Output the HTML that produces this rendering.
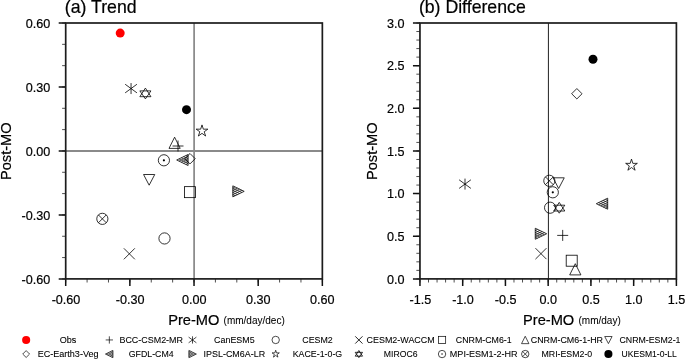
<!DOCTYPE html>
<html><head><meta charset="utf-8"><title>Pre-MO vs Post-MO</title>
<style>html,body{margin:0;padding:0;background:#fff;}body{width:685px;height:359px;overflow:hidden;position:relative;font-family:"Liberation Sans",sans-serif;}</style>
</head><body>
<svg width="685" height="359" viewBox="0 0 685 359" style="position:absolute;left:0;top:0;will-change:transform">
<rect width="685" height="359" fill="#fff"/>
<line x1="194.12" y1="23.0" x2="194.12" y2="278.9" stroke="#8c8c8c" stroke-width="1.8"/>
<line x1="65.7" y1="151" x2="322.35" y2="151" stroke="#8a8a8a" stroke-width="1.8"/>
<path d="M65.70,278.9v3.6M87.09,278.9v3.6M108.48,278.9v3.6M129.86,278.9v3.6M151.25,278.9v3.6M172.64,278.9v3.6M194.03,278.9v3.6M215.41,278.9v3.6M236.80,278.9v3.6M258.19,278.9v3.6M279.58,278.9v3.6M300.96,278.9v3.6M322.35,278.9v3.6M65.7,23.00h-3.6M65.7,44.33h-3.6M65.7,65.65h-3.6M65.7,86.97h-3.6M65.7,108.30h-3.6M65.7,129.62h-3.6M65.7,150.95h-3.6M65.7,172.27h-3.6M65.7,193.60h-3.6M65.7,214.92h-3.6M65.7,236.25h-3.6M65.7,257.57h-3.6M65.7,278.90h-3.6" stroke="#222" stroke-width="0.8" fill="none"/>
<path d="M65.70,278.9v7M129.86,278.9v7M194.03,278.9v7M258.19,278.9v7M322.35,278.9v7M65.7,23.00h-7M65.7,86.97h-7M65.7,150.95h-7M65.7,214.92h-7M65.7,278.90h-7" stroke="#111" stroke-width="1.5" fill="none"/>
<rect x="65.7" y="23.0" width="256.65000000000003" height="255.89999999999998" fill="none" stroke="#1c1c1c" stroke-width="1.7"/>
<line x1="548.45" y1="23.0" x2="548.45" y2="278.9" stroke="#363636" stroke-width="1.1"/>
<path d="M419.95,278.9v3.6M428.50,278.9v3.6M437.05,278.9v3.6M445.59,278.9v3.6M454.14,278.9v3.6M462.69,278.9v3.6M471.24,278.9v3.6M479.79,278.9v3.6M488.34,278.9v3.6M496.88,278.9v3.6M505.43,278.9v3.6M513.98,278.9v3.6M522.53,278.9v3.6M531.08,278.9v3.6M539.63,278.9v3.6M548.17,278.9v3.6M556.72,278.9v3.6M565.27,278.9v3.6M573.82,278.9v3.6M582.37,278.9v3.6M590.92,278.9v3.6M599.46,278.9v3.6M608.01,278.9v3.6M616.56,278.9v3.6M625.11,278.9v3.6M633.66,278.9v3.6M642.21,278.9v3.6M650.75,278.9v3.6M659.30,278.9v3.6M667.85,278.9v3.6M676.40,278.9v3.6M419.95,23.00h-3.6M419.95,31.53h-3.6M419.95,40.06h-3.6M419.95,48.59h-3.6M419.95,57.12h-3.6M419.95,65.65h-3.6M419.95,74.18h-3.6M419.95,82.71h-3.6M419.95,91.24h-3.6M419.95,99.77h-3.6M419.95,108.30h-3.6M419.95,116.83h-3.6M419.95,125.36h-3.6M419.95,133.89h-3.6M419.95,142.42h-3.6M419.95,150.95h-3.6M419.95,159.48h-3.6M419.95,168.01h-3.6M419.95,176.54h-3.6M419.95,185.07h-3.6M419.95,193.60h-3.6M419.95,202.13h-3.6M419.95,210.66h-3.6M419.95,219.19h-3.6M419.95,227.72h-3.6M419.95,236.25h-3.6M419.95,244.78h-3.6M419.95,253.31h-3.6M419.95,261.84h-3.6M419.95,270.37h-3.6M419.95,278.90h-3.6" stroke="#222" stroke-width="0.8" fill="none"/>
<path d="M419.95,278.9v7M462.69,278.9v7M505.43,278.9v7M548.17,278.9v7M590.92,278.9v7M633.66,278.9v7M676.40,278.9v7M419.95,23.00h-7M419.95,65.65h-7M419.95,108.30h-7M419.95,150.95h-7M419.95,193.60h-7M419.95,236.25h-7M419.95,278.90h-7" stroke="#111" stroke-width="1.5" fill="none"/>
<rect x="419.95" y="23.0" width="256.45" height="255.89999999999998" fill="none" stroke="#1c1c1c" stroke-width="1.7"/>
<g transform="translate(120.2,33.1) scale(1.0)" fill="none" stroke="#000" stroke-width="0.800"><circle r="4.5" fill="#f00" stroke="none"/></g>
<g transform="translate(131.05,88.55) scale(1.0)" fill="none" stroke="#000" stroke-width="0.800"><path d="M0,-5.5V5.5M-5.9,-4.3L5.9,4.3M-5.9,4.3L5.9,-4.3"/></g>
<g transform="translate(145.4,93.5) scale(1.0)" fill="none" stroke="#000" stroke-width="0.800"><path d="M0,-5.4L5.55,3.2H-5.55Z"/><path d="M0,5.4L5.55,-2.6H-5.55Z"/></g>
<g transform="translate(186.5,109.65) scale(1.0)" fill="none" stroke="#000" stroke-width="0.800"><circle r="4.5" fill="#000" stroke="none"/></g>
<g transform="translate(202.0,131.05) scale(1.0)" fill="none" stroke="#000" stroke-width="0.800"><path d="M0.00,-6.15L1.35,-1.86L5.85,-1.90L2.19,0.71L3.61,4.98L0.00,2.30L-3.61,4.98L-2.19,0.71L-5.85,-1.90L-1.35,-1.86Z"/></g>
<g transform="translate(174.6,142.8) scale(1.0)" fill="none" stroke="#000" stroke-width="0.800"><path d="M0,-5.6L5.6,5.6H-5.6Z"/></g>
<g transform="translate(178.0,146.0) scale(1.0)" fill="none" stroke="#000" stroke-width="0.800"><path d="M-5.5,0H5.5M0,-5.5V5.5"/></g>
<g transform="translate(163.9,160.3) scale(1.0)" fill="none" stroke="#000" stroke-width="0.800"><circle r="5.6"/><circle r="1.1" fill="#000" stroke="none"/></g>
<g transform="translate(182.6,160) scale(1.0)" fill="none" stroke="#000" stroke-width="0.800"><path d="M5.5,-5.5L5.5,5.5L-5.9,0Z"/><path d="M5.50,-3.30L3.22,-4.40M5.50,-3.30L-3.62,1.10M5.50,-1.10L0.94,-3.30M5.50,-1.10L-1.34,2.20M5.50,1.10L-1.34,-2.20M5.50,1.10L0.94,3.30M5.50,3.30L-3.62,-1.10M5.50,3.30L3.22,4.40" stroke-width="0.65"/></g>
<g transform="translate(190.0,158.7) scale(1.0)" fill="none" stroke="#000" stroke-width="0.800"><path d="M0,-5.2L5.2,0L0,5.2L-5.2,0Z"/></g>
<g transform="translate(149.15,179.7) scale(1.0)" fill="none" stroke="#000" stroke-width="0.800"><path d="M0,5.5L5.6,-5.2H-5.6Z"/></g>
<g transform="translate(190.05,192.15) scale(1.0)" fill="none" stroke="#000" stroke-width="0.800"><rect x="-5.5" y="-5.5" width="11.0" height="11.0"/></g>
<g transform="translate(238.3,191.35) scale(1.0)" fill="none" stroke="#000" stroke-width="0.800"><path d="M-5.5,-5.5L-5.5,5.5L5.9,0Z"/><path d="M-5.50,-3.30L-3.22,-4.40M-5.50,-3.30L3.62,1.10M-5.50,-1.10L-0.94,-3.30M-5.50,-1.10L1.34,2.20M-5.50,1.10L1.34,-2.20M-5.50,1.10L-0.94,3.30M-5.50,3.30L3.62,-1.10M-5.50,3.30L-3.22,4.40" stroke-width="0.65"/></g>
<g transform="translate(102.35,218.85) scale(1.0)" fill="none" stroke="#000" stroke-width="0.800"><circle r="5.6"/><path d="M-3.96,-3.96L3.96,3.96M-3.96,3.96L3.96,-3.96"/></g>
<g transform="translate(164.5,238.45) scale(1.0)" fill="none" stroke="#000" stroke-width="0.800"><circle r="5.6"/></g>
<g transform="translate(129.35,253.8) scale(1.0)" fill="none" stroke="#000" stroke-width="0.800"><path d="M-5.5,-5.5L5.5,5.5M-5.5,5.5L5.5,-5.5"/></g>
<g transform="translate(593.0,59.3) scale(1.0)" fill="none" stroke="#000" stroke-width="0.800"><circle r="4.5" fill="#000" stroke="none"/></g>
<g transform="translate(576.85,93.75) scale(1.0)" fill="none" stroke="#000" stroke-width="0.800"><path d="M0,-5.2L5.2,0L0,5.2L-5.2,0Z"/></g>
<g transform="translate(631.5,165.25) scale(1.0)" fill="none" stroke="#000" stroke-width="0.800"><path d="M0.00,-6.15L1.35,-1.86L5.85,-1.90L2.19,0.71L3.61,4.98L0.00,2.30L-3.61,4.98L-2.19,0.71L-5.85,-1.90L-1.35,-1.86Z"/></g>
<g transform="translate(465.0,184.1) scale(1.0)" fill="none" stroke="#000" stroke-width="0.800"><path d="M0,-5.5V5.5M-5.9,-4.3L5.9,4.3M-5.9,4.3L5.9,-4.3"/></g>
<g transform="translate(549.35,180.8) scale(1.0)" fill="none" stroke="#000" stroke-width="0.800"><circle r="5.6"/><path d="M-3.96,-3.96L3.96,3.96M-3.96,3.96L3.96,-3.96"/></g>
<g transform="translate(558.65,183) scale(1.0)" fill="none" stroke="#000" stroke-width="0.800"><path d="M0,5.5L5.6,-5.2H-5.6Z"/></g>
<g transform="translate(552.8,192.3) scale(1.0)" fill="none" stroke="#000" stroke-width="0.800"><circle r="5.6"/><circle r="1.1" fill="#000" stroke="none"/></g>
<g transform="translate(550.1,207.7) scale(1.0)" fill="none" stroke="#000" stroke-width="0.800"><circle r="5.6"/></g>
<g transform="translate(559.25,207.8) scale(1.0)" fill="none" stroke="#000" stroke-width="0.800"><path d="M0,-5.4L5.55,3.2H-5.55Z"/><path d="M0,5.4L5.55,-2.6H-5.55Z"/></g>
<g transform="translate(602.2,203.7) scale(1.0)" fill="none" stroke="#000" stroke-width="0.800"><path d="M5.5,-5.5L5.5,5.5L-5.9,0Z"/><path d="M5.50,-3.30L3.22,-4.40M5.50,-3.30L-3.62,1.10M5.50,-1.10L0.94,-3.30M5.50,-1.10L-1.34,2.20M5.50,1.10L-1.34,-2.20M5.50,1.10L0.94,3.30M5.50,3.30L-3.62,-1.10M5.50,3.30L3.22,4.40" stroke-width="0.65"/></g>
<g transform="translate(540.75,233.75) scale(1.0)" fill="none" stroke="#000" stroke-width="0.800"><path d="M-5.5,-5.5L-5.5,5.5L5.9,0Z"/><path d="M-5.50,-3.30L-3.22,-4.40M-5.50,-3.30L3.62,1.10M-5.50,-1.10L-0.94,-3.30M-5.50,-1.10L1.34,2.20M-5.50,1.10L1.34,-2.20M-5.50,1.10L-0.94,3.30M-5.50,3.30L3.62,-1.10M-5.50,3.30L-3.22,4.40" stroke-width="0.65"/></g>
<g transform="translate(562.7,235.4) scale(1.0)" fill="none" stroke="#000" stroke-width="0.800"><path d="M-5.5,0H5.5M0,-5.5V5.5"/></g>
<g transform="translate(540.95,253.65) scale(1.0)" fill="none" stroke="#000" stroke-width="0.800"><path d="M-5.5,-5.5L5.5,5.5M-5.5,5.5L5.5,-5.5"/></g>
<g transform="translate(571.7,260.7) scale(1.0)" fill="none" stroke="#000" stroke-width="0.800"><rect x="-5.5" y="-5.5" width="11.0" height="11.0"/></g>
<g transform="translate(575.3,269.3) scale(1.0)" fill="none" stroke="#000" stroke-width="0.800"><path d="M0,-5.6L5.6,5.6H-5.6Z"/></g>
<text x="64.8" y="13.1" font-size="17.7" text-anchor="start" font-family="Liberation Sans, sans-serif" fill="#000" stroke="#000" stroke-width="0.2" >(a) Trend</text>
<text x="418.9" y="13.1" font-size="17.7" text-anchor="start" font-family="Liberation Sans, sans-serif" fill="#000" stroke="#000" stroke-width="0.2" >(b) Difference</text>
<text x="50.2" y="27.9" font-size="12.6" text-anchor="end" font-family="Liberation Sans, sans-serif" fill="#000" stroke="#000" stroke-width="0.2" >0.60</text>
<text x="50.2" y="91.9" font-size="12.6" text-anchor="end" font-family="Liberation Sans, sans-serif" fill="#000" stroke="#000" stroke-width="0.2" >0.30</text>
<text x="50.2" y="155.9" font-size="12.6" text-anchor="end" font-family="Liberation Sans, sans-serif" fill="#000" stroke="#000" stroke-width="0.2" >0.00</text>
<text x="50.2" y="219.9" font-size="12.6" text-anchor="end" font-family="Liberation Sans, sans-serif" fill="#000" stroke="#000" stroke-width="0.2" >-0.30</text>
<text x="50.2" y="283.9" font-size="12.6" text-anchor="end" font-family="Liberation Sans, sans-serif" fill="#000" stroke="#000" stroke-width="0.2" >-0.60</text>
<text x="404.6" y="28" font-size="12.6" text-anchor="end" font-family="Liberation Sans, sans-serif" fill="#000" stroke="#000" stroke-width="0.2" >3.0</text>
<text x="404.6" y="70" font-size="12.6" text-anchor="end" font-family="Liberation Sans, sans-serif" fill="#000" stroke="#000" stroke-width="0.2" >2.5</text>
<text x="404.6" y="113" font-size="12.6" text-anchor="end" font-family="Liberation Sans, sans-serif" fill="#000" stroke="#000" stroke-width="0.2" >2.0</text>
<text x="404.6" y="156" font-size="12.6" text-anchor="end" font-family="Liberation Sans, sans-serif" fill="#000" stroke="#000" stroke-width="0.2" >1.5</text>
<text x="404.6" y="198" font-size="12.6" text-anchor="end" font-family="Liberation Sans, sans-serif" fill="#000" stroke="#000" stroke-width="0.2" >1.0</text>
<text x="404.6" y="241" font-size="12.6" text-anchor="end" font-family="Liberation Sans, sans-serif" fill="#000" stroke="#000" stroke-width="0.2" >0.5</text>
<text x="404.6" y="284" font-size="12.6" text-anchor="end" font-family="Liberation Sans, sans-serif" fill="#000" stroke="#000" stroke-width="0.2" >0.0</text>
<text x="66.0" y="304" font-size="12.6" text-anchor="middle" font-family="Liberation Sans, sans-serif" fill="#000" stroke="#000" stroke-width="0.2" >-0.60</text>
<text x="130.07999999999998" y="304" font-size="12.6" text-anchor="middle" font-family="Liberation Sans, sans-serif" fill="#000" stroke="#000" stroke-width="0.2" >-0.30</text>
<text x="194.16" y="304" font-size="12.6" text-anchor="middle" font-family="Liberation Sans, sans-serif" fill="#000" stroke="#000" stroke-width="0.2" >0.00</text>
<text x="258.24" y="304" font-size="12.6" text-anchor="middle" font-family="Liberation Sans, sans-serif" fill="#000" stroke="#000" stroke-width="0.2" >0.30</text>
<text x="322.32" y="304" font-size="12.6" text-anchor="middle" font-family="Liberation Sans, sans-serif" fill="#000" stroke="#000" stroke-width="0.2" >0.60</text>
<text x="420.3" y="304" font-size="12.6" text-anchor="middle" font-family="Liberation Sans, sans-serif" fill="#000" stroke="#000" stroke-width="0.2" >-1.5</text>
<text x="462.98333333333335" y="304" font-size="12.6" text-anchor="middle" font-family="Liberation Sans, sans-serif" fill="#000" stroke="#000" stroke-width="0.2" >-1.0</text>
<text x="505.6666666666667" y="304" font-size="12.6" text-anchor="middle" font-family="Liberation Sans, sans-serif" fill="#000" stroke="#000" stroke-width="0.2" >-0.5</text>
<text x="548.35" y="304" font-size="12.6" text-anchor="middle" font-family="Liberation Sans, sans-serif" fill="#000" stroke="#000" stroke-width="0.2" >0.0</text>
<text x="591.0333333333333" y="304" font-size="12.6" text-anchor="middle" font-family="Liberation Sans, sans-serif" fill="#000" stroke="#000" stroke-width="0.2" >0.5</text>
<text x="633.7166666666667" y="304" font-size="12.6" text-anchor="middle" font-family="Liberation Sans, sans-serif" fill="#000" stroke="#000" stroke-width="0.2" >1.0</text>
<text x="676.4000000000001" y="304" font-size="12.6" text-anchor="middle" font-family="Liberation Sans, sans-serif" fill="#000" stroke="#000" stroke-width="0.2" >1.5</text>
<text x="168.2" y="325.2" font-size="14.65" text-anchor="start" font-family="Liberation Sans, sans-serif" fill="#000" stroke="#000" stroke-width="0.2" >Pre-MO</text>
<text x="223.6" y="323.5" font-size="10.0" text-anchor="start" font-family="Liberation Sans, sans-serif" fill="#000" stroke="#000" stroke-width="0.05">(mm/day/dec)</text>
<text x="523.0" y="325.2" font-size="14.65" text-anchor="start" font-family="Liberation Sans, sans-serif" fill="#000" stroke="#000" stroke-width="0.2" >Pre-MO</text>
<text x="578.5" y="323.5" font-size="10.0" text-anchor="start" font-family="Liberation Sans, sans-serif" fill="#000" stroke="#000" stroke-width="0.05">(mm/day)</text>
<text transform="translate(11.4,151.2) rotate(-90)" font-size="14.6" text-anchor="middle" font-family="Liberation Sans, sans-serif" fill="#000" stroke="#000" stroke-width="0.2">Post-MO</text>
<text transform="translate(376.6,151.2) rotate(-90)" font-size="14.6" text-anchor="middle" font-family="Liberation Sans, sans-serif" fill="#000" stroke="#000" stroke-width="0.2">Post-MO</text>
<g transform="translate(26.15,339.95) scale(0.9)" fill="none" stroke="#000" stroke-width="0.778"><circle r="4.5" fill="#f00" stroke="none"/></g>
<g transform="translate(26.15,354.05) scale(0.66)" fill="none" stroke="#000" stroke-width="1.061"><path d="M0,-5.2L5.2,0L0,5.2L-5.2,0Z"/></g>
<text x="68.10" y="343.2" font-size="9.05" text-anchor="middle" font-family="Liberation Sans, sans-serif" fill="#000" stroke="#000" stroke-width="0.08" textLength="16.6" lengthAdjust="spacingAndGlyphs">Obs</text>
<text x="68.10" y="356.9" font-size="9.05" text-anchor="middle" font-family="Liberation Sans, sans-serif" fill="#000" stroke="#000" stroke-width="0.08" textLength="60.9" lengthAdjust="spacingAndGlyphs">EC-Earth3-Veg</text>
<g transform="translate(109.33000000000001,339.95) scale(0.66)" fill="none" stroke="#000" stroke-width="1.061"><path d="M-5.5,0H5.5M0,-5.5V5.5"/></g>
<g transform="translate(109.33000000000001,354.05) scale(0.66)" fill="none" stroke="#000" stroke-width="1.061"><path d="M5.5,-5.5L5.5,5.5L-5.9,0Z"/><path d="M5.50,-3.30L3.22,-4.40M5.50,-3.30L-3.62,1.10M5.50,-1.10L0.94,-3.30M5.50,-1.10L-1.34,2.20M5.50,1.10L-1.34,-2.20M5.50,1.10L0.94,3.30M5.50,3.30L-3.62,-1.10M5.50,3.30L3.22,4.40" stroke-width="0.65"/></g>
<text x="151.23" y="343.2" font-size="9.05" text-anchor="middle" font-family="Liberation Sans, sans-serif" fill="#000" stroke="#000" stroke-width="0.08" textLength="63.6" lengthAdjust="spacingAndGlyphs">BCC-CSM2-MR</text>
<text x="151.23" y="356.9" font-size="9.05" text-anchor="middle" font-family="Liberation Sans, sans-serif" fill="#000" stroke="#000" stroke-width="0.08" textLength="44.9" lengthAdjust="spacingAndGlyphs">GFDL-CM4</text>
<g transform="translate(192.51000000000002,339.95) scale(0.66)" fill="none" stroke="#000" stroke-width="1.061"><path d="M0,-5.5V5.5M-5.9,-4.3L5.9,4.3M-5.9,4.3L5.9,-4.3"/></g>
<g transform="translate(192.51000000000002,354.05) scale(0.66)" fill="none" stroke="#000" stroke-width="1.061"><path d="M-5.5,-5.5L-5.5,5.5L5.9,0Z"/><path d="M-5.50,-3.30L-3.22,-4.40M-5.50,-3.30L3.62,1.10M-5.50,-1.10L-0.94,-3.30M-5.50,-1.10L1.34,2.20M-5.50,1.10L1.34,-2.20M-5.50,1.10L-0.94,3.30M-5.50,3.30L3.62,-1.10M-5.50,3.30L-3.22,4.40" stroke-width="0.65"/></g>
<text x="234.36" y="343.2" font-size="9.05" text-anchor="middle" font-family="Liberation Sans, sans-serif" fill="#000" stroke="#000" stroke-width="0.08" textLength="40.5" lengthAdjust="spacingAndGlyphs">CanESM5</text>
<text x="234.36" y="356.9" font-size="9.05" text-anchor="middle" font-family="Liberation Sans, sans-serif" fill="#000" stroke="#000" stroke-width="0.08" textLength="61.5" lengthAdjust="spacingAndGlyphs">IPSL-CM6A-LR</text>
<g transform="translate(275.69,339.95) scale(0.66)" fill="none" stroke="#000" stroke-width="1.061"><circle r="5.6"/></g>
<g transform="translate(275.69,354.05) scale(0.62)" fill="none" stroke="#000" stroke-width="1.129"><path d="M0.00,-6.15L1.35,-1.86L5.85,-1.90L2.19,0.71L3.61,4.98L0.00,2.30L-3.61,4.98L-2.19,0.71L-5.85,-1.90L-1.35,-1.86Z"/></g>
<text x="317.49" y="343.2" font-size="9.05" text-anchor="middle" font-family="Liberation Sans, sans-serif" fill="#000" stroke="#000" stroke-width="0.08" textLength="30.5" lengthAdjust="spacingAndGlyphs">CESM2</text>
<text x="317.49" y="356.9" font-size="9.05" text-anchor="middle" font-family="Liberation Sans, sans-serif" fill="#000" stroke="#000" stroke-width="0.08" textLength="49.5" lengthAdjust="spacingAndGlyphs">KACE-1-0-G</text>
<g transform="translate(358.87,339.95) scale(0.66)" fill="none" stroke="#000" stroke-width="1.288"><path d="M-5.5,-5.5L5.5,5.5M-5.5,5.5L5.5,-5.5"/></g>
<g transform="translate(358.87,354.05) scale(0.66)" fill="none" stroke="#000" stroke-width="1.212"><path d="M0,-5.4L5.55,3.2H-5.55Z"/><path d="M0,5.4L5.55,-2.6H-5.55Z"/></g>
<text x="400.62" y="343.2" font-size="9.05" text-anchor="middle" font-family="Liberation Sans, sans-serif" fill="#000" stroke="#000" stroke-width="0.08" textLength="68.2" lengthAdjust="spacingAndGlyphs">CESM2-WACCM</text>
<text x="400.62" y="356.9" font-size="9.05" text-anchor="middle" font-family="Liberation Sans, sans-serif" fill="#000" stroke="#000" stroke-width="0.08" textLength="33.7" lengthAdjust="spacingAndGlyphs">MIROC6</text>
<g transform="translate(442.05,339.95) scale(0.66)" fill="none" stroke="#000" stroke-width="1.061"><rect x="-5.5" y="-5.5" width="11.0" height="11.0"/></g>
<g transform="translate(442.05,354.05) scale(0.66)" fill="none" stroke="#000" stroke-width="1.061"><circle r="5.6"/><circle r="1.1" fill="#000" stroke="none"/></g>
<text x="483.75" y="343.2" font-size="9.05" text-anchor="middle" font-family="Liberation Sans, sans-serif" fill="#000" stroke="#000" stroke-width="0.08" textLength="55.8" lengthAdjust="spacingAndGlyphs">CNRM-CM6-1</text>
<text x="483.75" y="356.9" font-size="9.05" text-anchor="middle" font-family="Liberation Sans, sans-serif" fill="#000" stroke="#000" stroke-width="0.08" textLength="67.8" lengthAdjust="spacingAndGlyphs">MPI-ESM1-2-HR</text>
<g transform="translate(525.23,339.95) scale(0.66)" fill="none" stroke="#000" stroke-width="1.061"><path d="M0,-5.6L5.6,5.6H-5.6Z"/></g>
<g transform="translate(525.23,354.05) scale(0.66)" fill="none" stroke="#000" stroke-width="1.061"><circle r="5.6"/><path d="M-3.96,-3.96L3.96,3.96M-3.96,3.96L3.96,-3.96"/></g>
<text x="566.88" y="343.2" font-size="9.05" text-anchor="middle" font-family="Liberation Sans, sans-serif" fill="#000" stroke="#000" stroke-width="0.08" textLength="72.3" lengthAdjust="spacingAndGlyphs">CNRM-CM6-1-HR</text>
<text x="566.88" y="356.9" font-size="9.05" text-anchor="middle" font-family="Liberation Sans, sans-serif" fill="#000" stroke="#000" stroke-width="0.08" textLength="50.8" lengthAdjust="spacingAndGlyphs">MRI-ESM2-0</text>
<g transform="translate(608.41,339.95) scale(0.66)" fill="none" stroke="#000" stroke-width="1.061"><path d="M0,5.5L5.6,-5.2H-5.6Z"/></g>
<g transform="translate(608.41,354.05) scale(0.9)" fill="none" stroke="#000" stroke-width="0.778"><circle r="4.5" fill="#000" stroke="none"/></g>
<text x="650.01" y="343.2" font-size="9.05" text-anchor="middle" font-family="Liberation Sans, sans-serif" fill="#000" stroke="#000" stroke-width="0.08" textLength="61.0" lengthAdjust="spacingAndGlyphs">CNRM-ESM2-1</text>
<text x="649.21" y="356.9" font-size="9.05" text-anchor="middle" font-family="Liberation Sans, sans-serif" fill="#000" stroke="#000" stroke-width="0.08" textLength="55.3" lengthAdjust="spacingAndGlyphs">UKESM1-0-LL</text>
</svg>
</body></html>
